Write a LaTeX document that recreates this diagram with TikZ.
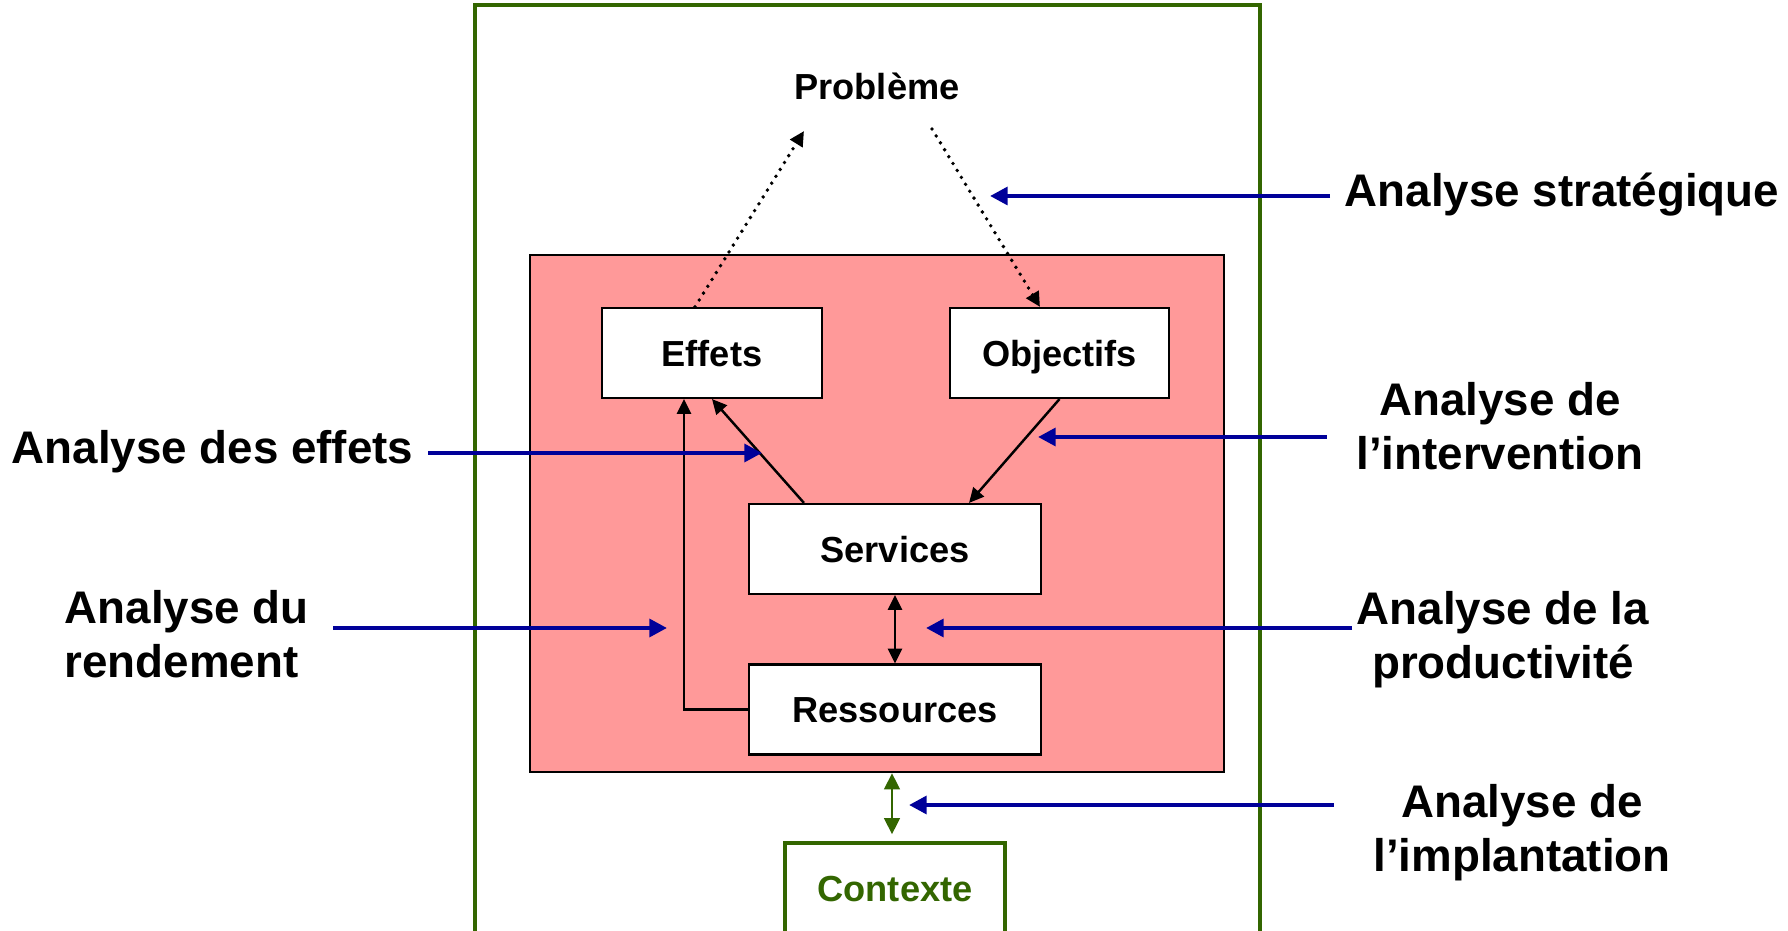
\documentclass[tikz,border=0pt]{standalone}
\usepackage{fontspec}
\setmainfont{Liberation Sans}
\usetikzlibrary{arrows.meta}
\definecolor{vertcadre}{HTML}{336600}
\definecolor{rosefond}{HTML}{FF9999}
\definecolor{bleufleche}{HTML}{000099}
\tikzset{boite/.style={draw=black, line width=0.6pt, fill=white, minimum height=0.9cm, inner sep=0,
    text height=1.6ex, text depth=0.2ex, font=\fontsize{10.3}{12}\selectfont\bfseries},
  etiq/.style={font=\fontsize{13}{15.4}\selectfont\bfseries, inner sep=4pt},
  fleche/.style={draw=bleufleche, line width=1.2pt, -{Triangle[length=5pt,width=5pt]}},
  lien/.style={line width=0.7pt, -{Triangle[length=4.2pt,width=4pt]}},
  pointille/.style={line width=1.1pt, line cap=round, dash pattern=on 0pt off 2.3pt, -{Triangle[length=4.2pt,width=4pt]}}}
\begin{document}
\begin{tikzpicture}[x=0.01cm, y=-0.01cm]
\useasboundingbox (0,0) rectangle (1788,931);
\draw[vertcadre, line width=0.95pt] (475,5) rectangle (1260,960);

\node[draw=black, line width=0.6pt, fill=rosefond, minimum width=6.94cm, minimum height=5.17cm] (cadre) at (877,513.5) {};

\node (probleme) at (877,86) [font=\fontsize{10.3}{12}\selectfont\bfseries] {Problème};
\coordinate (pb-g) at (804,131);
\coordinate (pb-d) at (932,129);

\node[boite, minimum width=2.2cm] (effets) at (712,353) {Effets};
\node[boite, minimum width=2.19cm] (objectifs) at (1059.5,353) {Objectifs};
\node[boite, minimum width=2.92cm] (services) at (895,549) {Services};
\node[boite, minimum width=2.92cm] (ressources) at (895,709.5) {Ressources};
\node[boite, draw=vertcadre, line width=0.95pt, text=vertcadre, minimum width=2.2cm] (contexte) at (895,888) {Contexte};

\draw[pointille] ([xshift=-1.7mm]effets.north) -- (pb-g);
\draw[pointille] (pb-d) -- ([xshift=-1.95mm]objectifs.north);
\draw[lien] ([xshift=-9.1mm]services.north) -- (effets.south);
\draw[lien] (objectifs.south) -- ([xshift=7.4mm]services.north);
\draw[lien, {Triangle[length=4.2pt,width=4pt]}-{Triangle[length=4.2pt,width=4pt]}] (services.south) -- (ressources.north);
\draw[lien] (ressources.west) -| ([xshift=-2.8mm]effets.south);
\draw[vertcadre, line width=0.8pt, {Triangle[length=4.6pt,width=4.4pt]}-{Triangle[length=4.6pt,width=4.4pt]}]
  ([xshift=-0.3mm]contexte.north |- cadre.south) -- ([xshift=-0.3mm,yshift=0.7mm]contexte.north);

% etiquettes d'analyse
\node[etiq, anchor=west] (strat) at (1330,195) {Analyse stratégique};
\node[etiq, align=center] (interv) at (1500,426) {Analyse de\\l’intervention};
\node[etiq, anchor=east] (deseffets) at (428,452) {Analyse des effets};
\node[etiq, align=left, anchor=west] (rendement) at (50,634) {Analyse du\\rendement};
\node[etiq, align=center] (productivite) at (1503,640) {Analyse de la\\productivité};
\node[etiq, align=center] (implantation) at (1522,833) {Analyse de\\l’implantation};

\coordinate (c-strat) at (990,196);
\coordinate (c-interv) at (1038,437);
\coordinate (c-effets) at (762,453);
\coordinate (c-rend) at (667,628);
\coordinate (c-prod) at (926,628);
\coordinate (c-impl) at (909,805);

\draw[fleche] (c-strat -| strat.west) -- (c-strat);
\draw[fleche] ([xshift=-1.5mm]c-interv -| interv.west) -- (c-interv);
\draw[fleche] (c-effets -| deseffets.east) -- (c-effets);
\draw[fleche] ([xshift=1mm]c-rend -| rendement.east) -- (c-rend);
\draw[fleche] ([xshift=1mm]c-prod -| productivite.west) -- (c-prod);
\draw[fleche] ([xshift=-2.5mm]c-impl -| implantation.west) -- (c-impl);
\end{tikzpicture}
\end{document}
